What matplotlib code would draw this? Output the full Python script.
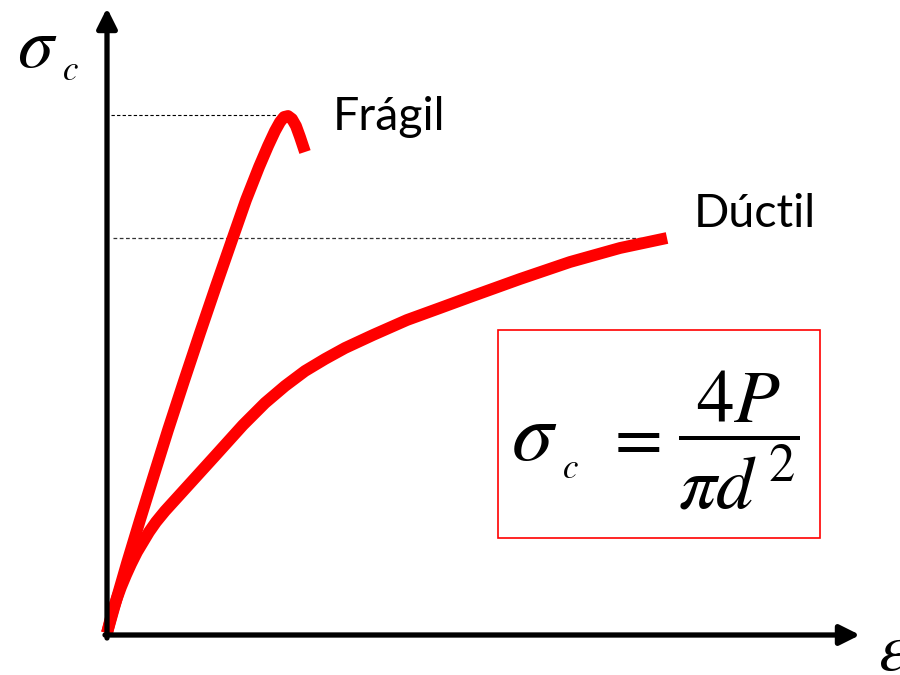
import numpy as np
import matplotlib.pyplot as plt
from matplotlib.patches import Rectangle

plt.rcParams['mathtext.fontset'] = 'stix'

# strain / stress curves (arbitrary units)
frag_x = [0.0, 0.09, 0.20, 0.33, 0.46, 0.61, 0.77, 0.93, 1.09, 1.25, 1.39,
          1.52, 1.61, 1.68, 1.73, 1.77, 1.81, 1.85, 1.89, 1.93, 1.98]
frag_y = [0.02, 0.34, 0.72, 1.15, 1.57, 2.05, 2.54, 3.02, 3.49, 3.95, 4.35,
          4.68, 4.89, 5.04, 5.13, 5.18, 5.19, 5.16, 5.09, 4.98, 4.83]

duct_x = [0.0, 0.03, 0.06, 0.10, 0.14, 0.19, 0.24, 0.30, 0.36, 0.42, 0.49,
          0.58, 0.78, 1.08, 1.36, 1.58, 1.78, 1.98, 2.18, 2.38, 2.66, 3.00,
          3.33, 3.63, 4.13, 4.63, 5.13, 5.60]
duct_y = [0.02, 0.14, 0.25, 0.37, 0.48, 0.60, 0.71, 0.83, 0.93, 1.03, 1.13,
          1.24, 1.46, 1.79, 2.10, 2.32, 2.49, 2.64, 2.76, 2.87, 3.00, 3.15,
          3.27, 3.38, 3.56, 3.73, 3.87, 3.97]

labels = ["Frágil", "Dúctil"]

fig = plt.figure(figsize=(9, 6.75), dpi=100)
ax = fig.add_axes([0, 0, 1, 1])
ax.set_xlim(-1.07, 7.93)
ax.set_ylim(-0.40, 6.35)
ax.axis('off')

# dashed guides to the max stress of each curve
i = int(np.argmax(frag_y))
ax.hlines(frag_y[i] + 0.01, 0.04, frag_x[i], colors='black', lw=0.8, linestyles=(0, (3, 2)))
ax.hlines(duct_y[-1], 0.06, duct_x[-1] - 0.08, colors='#333333', lw=0.9, linestyles=(0, (3, 2)))

# curves
ax.plot(frag_x, frag_y, color='#ff0000', lw=8.5, solid_capstyle='butt', solid_joinstyle='round')
ax.plot(duct_x, duct_y, color='#ff0000', lw=8.5, solid_capstyle='butt', solid_joinstyle='round')

# axes arrows
arr = dict(arrowstyle='-|>,head_length=1.2,head_width=0.6', lw=3.8, color='black',
           shrinkA=0, shrinkB=0)
ax.annotate('', xy=(0, 6.27), xytext=(0, -0.03), arrowprops=arr)
ax.annotate('', xy=(7.53, 0), xytext=(-0.02, 0), arrowprops=arr)

# axis labels
ax.text(-0.90, 5.68, r'$\sigma$', fontsize=52, va='baseline', ha='left')
ax.text(-0.45, 5.55, r'$c$', fontsize=25, va='baseline', ha='left')
ax.text(7.71, -0.35, r'$\varepsilon$', fontsize=48, va='baseline', ha='left')

# curve names
ax.text(2.26, 5.05, labels[0], fontsize=33.5, family='Lato', va='baseline', ha='left')
ax.text(5.87, 4.08, labels[1], fontsize=33.5, family='Lato', va='baseline', ha='left')

# formula box
ax.add_patch(Rectangle((3.91, 0.97), 3.22, 2.08, fill=False, edgecolor='#ff0000', lw=1.2))
ax.text(4.04, 1.75, r'$\sigma$', fontsize=60, va='baseline', ha='left')
ax.text(4.55, 1.57, r'$c$', fontsize=25, va='baseline', ha='left')
ax.text(5.25, 1.97, r'$=$', fontsize=50, va='center', ha='center')
ax.text(6.32, 1.95, r'$\dfrac{4P}{\pi d^{\,2}}$', fontsize=54, va='center', ha='center')

fig.savefig('out.png', dpi=100)
